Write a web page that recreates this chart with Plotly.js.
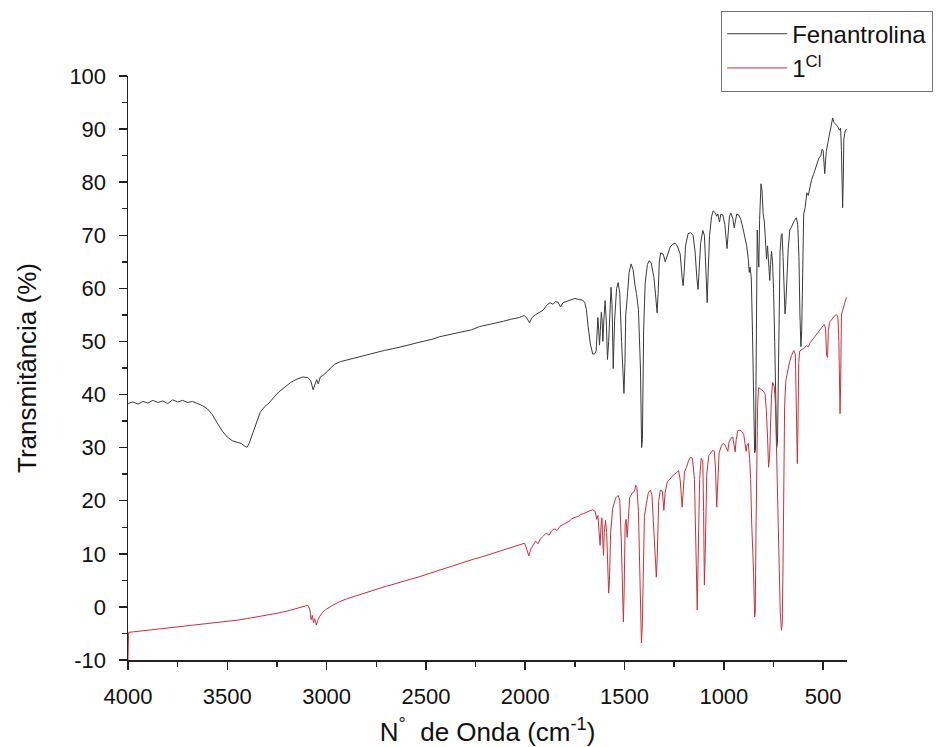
<!DOCTYPE html>
<html>
<head>
<meta charset="utf-8">
<script src="https://cdn.plot.ly/plotly-3.0.1.min.js"></script>
<style>html,body{margin:0;padding:0;background:#fff;}#chart{width:945px;height:747px;}</style>
</head>
<body>
<div id="chart"></div>
<script>
// Fenantrolina spectrum: wavenumber (cm-1) and transmittance (%)
const fenWavenumber = [4000,3975,3950,3925,3900,3875,3850,3825,3800,3775,3750,3725,3700,3675,3650,3625,3600,3575,3550,3525,3500,3475,3450,3430,3410,3400,3390,3375,3355,3335,3315,3290,3265,3240,3210,3180,3150,3120,3095,3080,3068,3058,3050,3042,3032,3015,3000,2980,2960,2930,2900,2870,2830,2790,2750,2710,2670,2630,2590,2550,2510,2470,2430,2390,2350,2310,2270,2230,2190,2150,2110,2070,2030,2005,1990,1978,1968,1950,1930,1910,1890,1875,1860,1848,1835,1822,1810,1790,1770,1750,1730,1712,1700,1692,1684,1672,1660,1650,1643,1638,1634,1630,1626,1622,1617,1613,1609,1605,1598,1592,1586,1580,1573,1568,1563,1557,1550,1540,1532,1524,1515,1508,1503,1498,1494,1487,1477,1467,1457,1447,1440,1430,1420,1414,1410,1404,1396,1385,1376,1366,1352,1342,1336,1331,1325,1318,1305,1295,1285,1270,1255,1245,1235,1220,1210,1205,1200,1193,1180,1168,1155,1145,1136,1130,1125,1117,1106,1098,1092,1087,1084,1080,1072,1062,1054,1045,1036,1030,1022,1015,1005,995,988,984,979,972,965,955,948,942,935,925,915,905,895,885,877,872,868,862,856,850,845,841,838,835,832,828,824,820,816,813,808,802,796,790,785,780,775,769,765,760,755,750,744,738,734,730,726,722,717,711,707,702,697,692,688,683,676,668,660,645,635,628,622,617,612,608,604,598,591,582,575,568,558,548,535,522,512,505,500,495,492,488,484,476,468,458,452,446,440,432,425,418,412,408,405,402,399,396,390,383];
const fenTransmittance = [38.3,38.6,38.2,38.7,38.4,38.9,38.5,38.8,38.3,39.0,38.6,38.9,38.5,38.7,38.3,37.9,37.3,36.2,34.6,33.1,32.0,31.3,31.0,30.8,30.2,30.1,30.8,32.4,34.8,36.6,37.6,38.4,39.5,40.5,41.4,42.3,42.9,43.3,43.2,42.6,40.9,41.8,42.8,42.0,43.3,43.7,44.2,44.9,45.7,46.2,46.5,46.8,47.2,47.6,47.9,48.3,48.6,48.9,49.3,49.7,50.0,50.4,50.9,51.2,51.5,51.9,52.2,52.8,53.1,53.4,53.8,54.2,54.5,54.9,54.3,53.5,54.4,55.0,55.4,55.9,56.9,57.3,57.0,57.5,57.4,56.5,57.3,57.6,57.9,58.1,57.9,57.8,57.3,56.0,53.0,49.5,47.6,47.7,48.2,52.0,54.5,52.0,49.3,52.0,55.5,54.0,50.0,53.5,57.7,54.0,46.6,50.0,58.5,60.2,57.0,44.9,54.0,60.0,61.1,59.0,50.0,43.0,40.2,46.0,55.0,58.0,63.0,64.6,63.5,60.5,59.0,56.0,45.0,30.0,31.5,52.0,61.0,64.5,65.2,64.8,62.0,58.0,55.4,59.0,65.0,66.7,66.4,65.0,66.0,67.8,68.4,68.5,68.0,66.5,62.0,60.5,63.0,68.0,70.3,70.5,70.0,67.0,62.0,59.8,63.0,68.5,70.9,70.0,65.0,58.0,57.3,62.0,70.0,73.5,74.6,74.3,73.6,74.0,72.5,74.0,73.8,72.0,69.5,67.5,70.0,73.5,74.2,73.2,71.4,73.0,74.0,73.8,73.0,71.5,70.0,68.0,65.5,63.0,64.0,62.0,52.0,38.0,29.0,29.5,45.0,62.0,71.0,67.0,64.0,73.0,78.0,79.7,78.5,74.0,72.5,67.5,65.5,68.0,64.0,61.5,64.5,67.0,65.0,60.0,50.0,38.0,30.0,31.0,45.0,60.0,67.0,70.0,70.3,66.0,58.0,55.2,57.0,63.0,67.5,71.0,71.5,72.8,73.3,72.0,66.0,55.0,49.0,52.0,66.0,74.0,75.2,78.0,77.5,79.0,80.5,81.5,83.0,84.5,85.0,86.2,86.0,84.0,81.6,84.0,85.8,87.5,89.0,90.5,92.1,91.3,91.0,90.6,90.4,89.8,90.2,86.0,78.0,75.2,80.0,88.0,89.5,90.0];

// 1^Cl spectrum
const clWavenumber = [4000,3997,3950,3900,3850,3800,3750,3700,3650,3600,3550,3500,3450,3400,3350,3300,3250,3200,3150,3110,3095,3085,3078,3072,3066,3060,3052,3045,3035,3020,3000,2970,2940,2900,2860,2820,2780,2740,2700,2660,2620,2580,2540,2500,2460,2420,2380,2340,2300,2260,2220,2180,2140,2100,2060,2020,2003,1992,1982,1972,1960,1948,1936,1924,1910,1895,1880,1868,1855,1840,1825,1810,1795,1780,1765,1750,1735,1720,1705,1690,1675,1660,1648,1640,1634,1628,1623,1619,1614,1610,1606,1602,1596,1590,1584,1580,1576,1570,1560,1545,1532,1524,1516,1510,1506,1502,1497,1492,1487,1482,1474,1460,1450,1444,1438,1430,1422,1415,1411,1406,1400,1390,1380,1370,1362,1352,1345,1340,1335,1328,1320,1310,1302,1296,1285,1270,1255,1240,1228,1220,1214,1210,1206,1198,1188,1178,1168,1158,1148,1142,1137,1134,1130,1122,1114,1106,1102,1098,1094,1086,1076,1066,1056,1048,1042,1036,1031,1024,1014,1004,994,986,980,974,964,955,948,943,938,930,920,910,900,893,888,883,877,870,865,860,855,850,845,842,838,834,830,825,815,800,792,786,780,775,770,765,760,754,746,740,734,728,722,716,710,706,702,698,694,688,680,670,660,648,640,636,633,630,627,623,618,605,595,585,575,565,555,545,535,525,515,505,495,488,483,478,474,468,458,448,438,432,426,421,418,415,412,408,404,398,390,383];
const clTransmittance = [-10,-4.8,-4.6,-4.4,-4.2,-4.0,-3.8,-3.6,-3.4,-3.2,-3.0,-2.8,-2.5,-2.2,-1.9,-1.6,-1.2,-0.8,-0.3,0.1,0.3,-0.4,-2.4,-1.6,-3.0,-2.2,-3.4,-2.6,-1.8,-1.0,-0.4,0.3,0.9,1.5,2.0,2.5,3.0,3.4,3.9,4.3,4.8,5.2,5.6,6.1,6.6,7.1,7.5,8.0,8.5,9.0,9.4,9.9,10.3,10.8,11.3,11.8,12.0,10.8,9.6,10.9,11.8,12.4,11.9,12.8,13.3,13.9,13.5,14.3,14.7,14.4,15.2,15.5,15.9,16.1,16.6,16.9,17.0,17.4,17.6,17.9,18.1,18.3,18.0,16.5,17.2,14.0,11.6,15.0,16.8,13.0,9.7,14.0,16.3,14.0,6.0,2.6,5.0,14.0,18.5,20.5,21.0,20.0,12.0,2.0,-2.8,3.0,15.6,16.5,13.1,16.0,20.6,21.5,21.8,22.9,22.5,18.0,5.0,-6.8,-4.0,10.0,17.0,19.5,21.5,22.0,21.0,14.0,7.0,5.6,10.0,20.0,22.0,21.8,18.2,21.5,23.5,24.2,24.8,25.2,25.7,24.0,20.0,18.8,21.0,25.5,26.3,27.5,28.2,28.0,24.0,12.0,0.5,-0.6,8.0,24.0,28.0,27.5,18.0,4.1,10.0,25.0,28.5,29.0,29.5,29.3,26.0,18.8,24.0,29.0,30.2,30.8,30.5,29.8,29.3,31.0,31.8,32.0,30.5,29.2,31.5,33.2,33.3,33.1,32.5,31.0,29.3,30.5,30.8,28.0,24.0,16.0,12.0,6.0,-1.9,-1.0,15.0,30.0,38.0,41.3,41.0,40.6,40.0,37.0,32.0,26.3,28.0,34.0,40.0,42.3,41.5,38.0,28.0,18.0,8.0,-1.0,-4.4,-3.0,8.0,24.0,38.0,42.6,44.5,46.0,47.3,48.3,47.5,38.0,30.0,27.0,34.0,46.0,48.2,48.5,48.8,49.2,49.0,49.8,50.3,50.8,51.3,51.6,52.2,52.8,53.2,52.5,47.5,47.0,52.0,53.6,54.0,54.5,55.0,55.0,54.6,50.0,40.0,36.4,42.0,55.0,55.6,56.5,57.5,58.3];

const seriesNames = ["Fenantrolina", "1<sup>Cl</sup>"];
const xTitle = "N<sup>°</sup>  de Onda (cm<sup>-1</sup>)";
const yTitle = "Transmitância (%)";
const xTickVals = [4000, 3500, 3000, 2500, 2000, 1500, 1000, 500];
const xTickText = ["4000", "3500", "3000", "2500", "2000", "1500", "1000", "500"];
const yTickVals = [-10, 0, 10, 20, 30, 40, 50, 60, 70, 80, 90, 100];
const yTickText = ["-10", "0", "10", "20", "30", "40", "50", "60", "70", "80", "90", "100"];

const FONT = 'Arial, "Liberation Sans", sans-serif';
const axisCommon = {
  showline: true, linecolor: '#222', linewidth: 1.5,
  ticks: 'outside', ticklen: 8, tickwidth: 1.5, tickcolor: '#222',
  showgrid: false, zeroline: false, mirror: false,
  tickfont: {family: FONT, size: 22, color: '#111'},
  ticklabelstandoff: 8,
  automargin: false
};

const traces = [
  {x: fenWavenumber, y: fenTransmittance, name: seriesNames[0], type: 'scatter', mode: 'lines',
   line: {color: '#3a3a3a', width: 1}},
  {x: clWavenumber, y: clTransmittance, name: seriesNames[1], type: 'scatter', mode: 'lines',
   line: {color: '#c8323c', width: 1}}
];

const layout = {
  width: 945, height: 747,
  margin: {l: 128, r: 98, t: 75, b: 87},
  paper_bgcolor: '#fff', plot_bgcolor: '#fff',
  font: {family: FONT, color: '#111'},
  showlegend: true,
  legend: {x: 0.825, y: 1.11, xanchor: 'left', yanchor: 'top',
    bgcolor: '#fff', bordercolor: '#777', borderwidth: 1,
    font: {family: FONT, size: 24, color: '#111'}, itemwidth: 60, tracegroupgap: 0},
  xaxis: Object.assign({}, axisCommon, {
    range: [4000, 380], tickmode: 'array', tickvals: xTickVals, ticktext: xTickText,
    minor: {ticks: 'outside', ticklen: 5, tickwidth: 1.5, tickcolor: '#222', dtick: 250, tick0: 0},
    title: {text: xTitle, font: {family: FONT, size: 26, color: '#111'}, standoff: 22}
  }),
  yaxis: Object.assign({}, axisCommon, {
    range: [-10, 100], tickmode: 'array', tickvals: yTickVals, ticktext: yTickText,
    minor: {ticks: 'outside', ticklen: 5, tickwidth: 1.5, tickcolor: '#222', dtick: 5, tick0: 0},
    title: {text: yTitle, font: {family: FONT, size: 26, color: '#111'}, standoff: 25}
  })
};

Plotly.newPlot('chart', traces, layout, {displayModeBar: false, staticPlot: true});
</script>
</body>
</html>
